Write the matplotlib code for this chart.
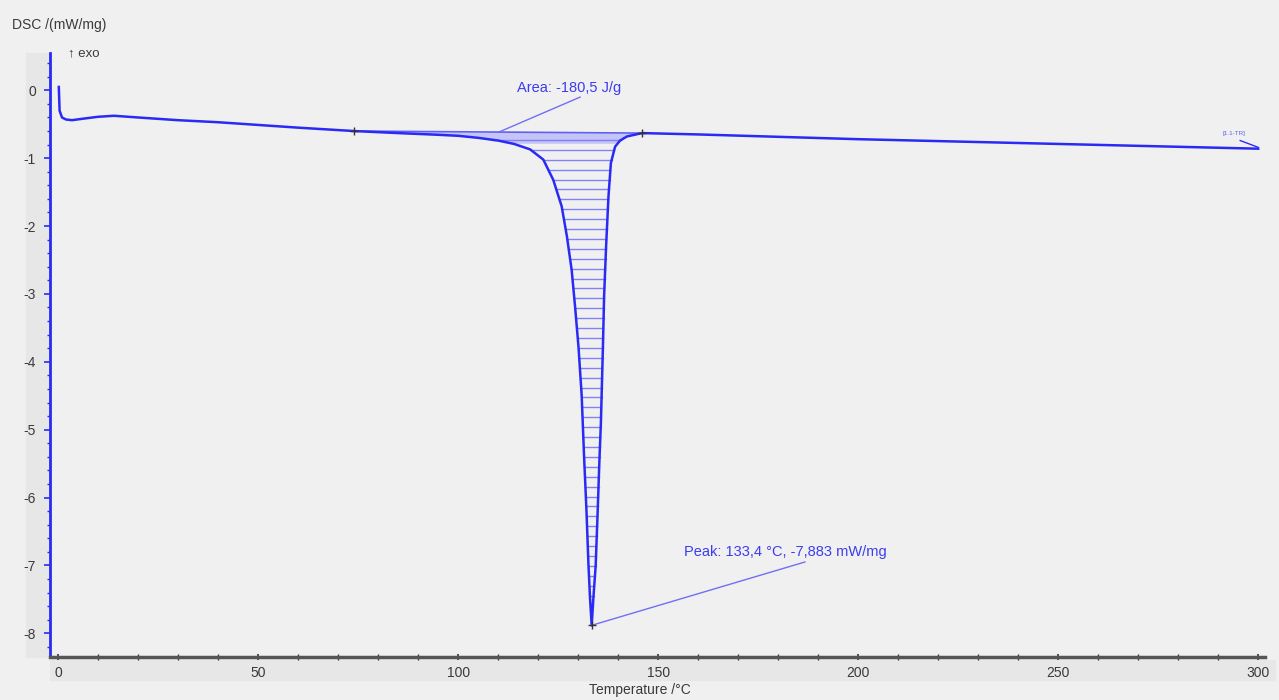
import numpy as np
import matplotlib.pyplot as plt
from matplotlib.patches import Rectangle
from matplotlib.ticker import MultipleLocator

# DSC curve
temp = [0.2, 0.4, 1.0, 2.0, 3.5, 6, 10, 14, 20, 30, 40, 50, 60, 74, 85, 95,
        100, 105, 110, 114, 118, 121.3, 123.8, 125.9, 127.2, 128.4, 129.25,
        130.1, 130.9, 131.5, 132.1, 132.6, 133.0, 133.4, 133.8, 134.4, 134.9,
        135.3, 135.7, 136.2, 136.5, 137.0, 137.6, 138.2, 139.25, 140.5, 142.2,
        146, 160, 200, 250, 300]
dsc = [0.05, -0.30, -0.40, -0.43, -0.44, -0.42, -0.39, -0.375, -0.40, -0.44,
       -0.47, -0.51, -0.55, -0.60, -0.63, -0.655, -0.67, -0.70, -0.74, -0.79,
       -0.87, -1.02, -1.32, -1.71, -2.15, -2.65, -3.19, -3.78, -4.50, -5.40,
       -6.20, -7.00, -7.50, -7.883, -7.50, -7.00, -6.20, -5.50, -4.90, -3.80,
       -3.04, -2.30, -1.56, -1.07, -0.83, -0.74, -0.68, -0.63, -0.65, -0.72,
       -0.79, -0.86]

# integration limits / baseline and peak
base_t = [74, 146]
base_y = [-0.60, -0.63]
peak_t, peak_y = 133.4, -7.883

area_label = "Area: -180,5 J/g"
peak_label = "Peak: 133,4 °C, -7,883 mW/mg"

plt.rcParams['font.family'] = ['Liberation Sans', 'DejaVu Sans']
plt.rcParams['axes.unicode_minus'] = False
bg = '#f0f0f0'
blue = '#2a2af5'
txt = '#3a3a3a'

fig = plt.figure(figsize=(12.79, 7.0), dpi=100, facecolor=bg)
ax = fig.add_axes([50 / 1279, 43 / 700, 1215 / 1279, 604 / 700])
ax.set_facecolor(bg)

# slightly darker bands behind tick labels
fig.patches.append(Rectangle((26 / 1279, 43 / 700), 23 / 1279, 604 / 700,
                             transform=fig.transFigure, color='#e7e7e7', zorder=-5))
fig.patches.append(Rectangle((50 / 1279, 20 / 700), 1225 / 1279, 20 / 700,
                             transform=fig.transFigure, color='#e7e7e7', zorder=-5))

t = np.array(temp)
y = np.array(dsc)

# hatched area between baseline and peak
i_pk = int(np.argmin(y))
i_end = int(np.searchsorted(t, base_t[1]))
left_t, left_y = t[:i_pk + 1], y[:i_pk + 1]
right_t, right_y = t[i_pk:i_end + 1], y[i_pk:i_end + 1]
for lev in np.arange(-0.73, peak_y, -0.146):
    xl = np.interp(lev, left_y[::-1], left_t[::-1])
    xr = np.interp(lev, right_y, right_t)
    ax.plot([xl, xr], [lev, lev], color='#8080f8', lw=1.0, zorder=2)

mask = (t >= base_t[0]) & (t <= base_t[1])
bl = np.interp(t[mask], base_t, base_y)
ax.fill_between(t[mask], bl, np.maximum(y[mask], -0.78), color='#c4c4f6',
                lw=0, zorder=1)
ax.plot(base_t, base_y, color='#6060f5', lw=1.2, zorder=2)

ax.plot(t, y, color=blue, lw=1.8, zorder=3)

ax.plot(base_t, base_y, '+', color='#333333', ms=6, mew=1, zorder=4)
ax.plot([peak_t], [peak_y], '+', color='#333333', ms=6, mew=1, zorder=4)

# annotations
ax.plot([110, 130.5], [-0.62, -0.10], color='#7070f5', lw=1.0, zorder=3)
ax.text(114.7, 0.04, area_label, color='#3c3cf0', fontsize=10.5,
        ha='left', va='center')
ax.plot([peak_t, 186.7], [peak_y, -6.95], color='#7070f5', lw=1.0, zorder=3)
ax.text(156.5, -6.80, peak_label, color='#3c3cf0', fontsize=10.5,
        ha='left', va='center')

ax.plot([295.5, 300], [-0.74, -0.84], color=blue, lw=1.0)
ax.text(291.2, -0.64, "[1.1-TR]", color='#5a5af5', fontsize=4.5,
        ha='left', va='center')

ax.set_xlim(-2, 301.7)
ax.set_ylim(-8.35, 0.55)

ax.xaxis.set_major_locator(MultipleLocator(50))
ax.xaxis.set_minor_locator(MultipleLocator(10))
ax.yaxis.set_major_locator(MultipleLocator(1))
ax.yaxis.set_minor_locator(MultipleLocator(0.2))

for s in ['top', 'right']:
    ax.spines[s].set_visible(False)
ax.spines['left'].set_color(blue)
ax.spines['left'].set_linewidth(2)
ax.spines['bottom'].set_color('#555555')
ax.spines['bottom'].set_linewidth(2.5)

ax.tick_params(axis='y', which='major', colors=blue, length=4, width=1.2,
               labelcolor=txt, labelsize=10, pad=6)
ax.tick_params(axis='y', which='minor', colors=blue, length=2, width=1)
ax.tick_params(axis='x', which='major', colors='#333333', length=5, width=1.2,
               direction='inout', labelcolor=txt, labelsize=10, pad=4)
ax.tick_params(axis='x', which='minor', colors='#333333', length=4, width=1,
               direction='inout')

fig.text(12 / 1279, 1 - 25 / 700, "DSC /(mW/mg)", color=txt, fontsize=10,
         ha='left', va='center')
fig.text(68 / 1279, 1 - 53 / 700, "↑ exo", color=txt, fontsize=9.5,
         ha='left', va='center')
fig.text(640 / 1279, 1 - 690 / 700, "Temperature /°C", color=txt, fontsize=10,
         ha='center', va='center')

fig.savefig('out.png', dpi=100, facecolor=bg)
